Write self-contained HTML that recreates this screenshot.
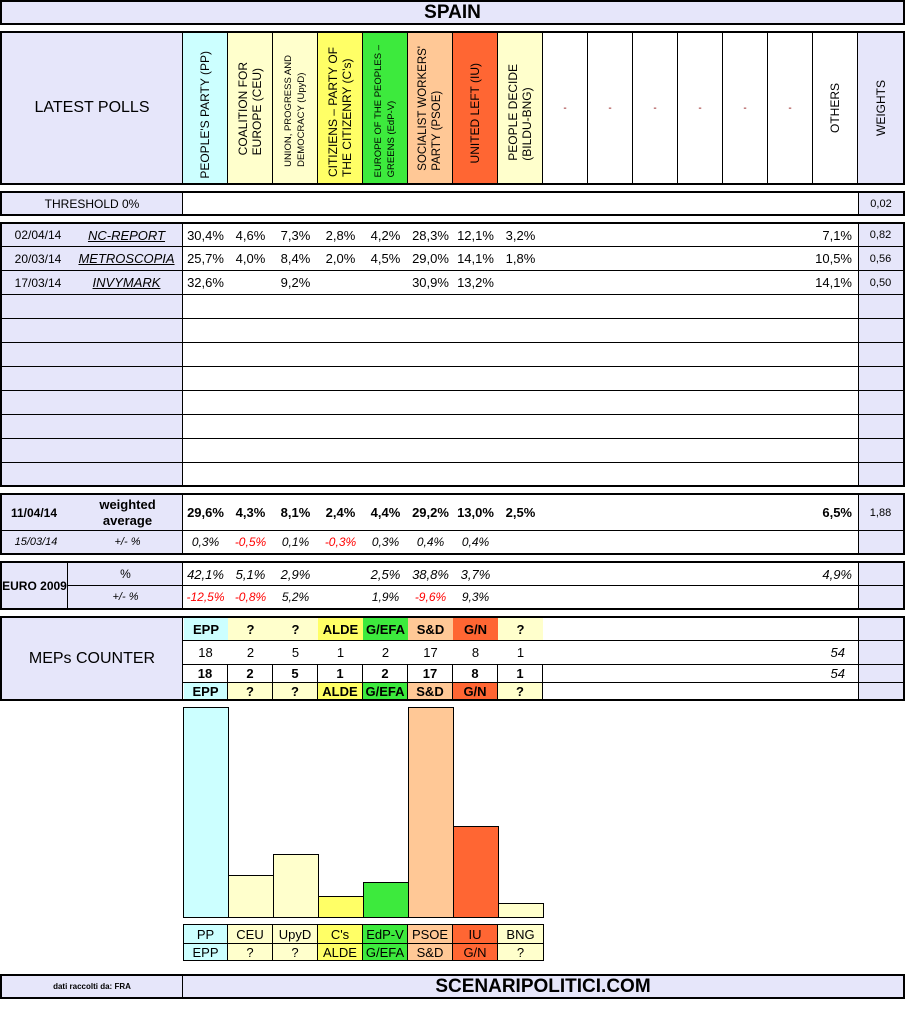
<!DOCTYPE html>
<html><head><meta charset="utf-8"><style>
body{margin:0;width:908px;height:1033px;background:#fff;position:relative;font-family:"Liberation Sans",Arial,sans-serif;color:#000;overflow:hidden}
.b{position:absolute;box-sizing:border-box}
.c{position:absolute;box-sizing:border-box;display:flex;align-items:center;justify-content:center;font-size:13px;white-space:nowrap}
.lv{background:#e6e6fa}
.v{writing-mode:vertical-rl;transform:rotate(180deg);text-align:left;line-height:14px;font-size:12px}
.i{font-style:italic}.r{color:#f00}.bd{font-weight:bold}
</style></head><body>
<!-- title -->
<div class="c lv" style="left:0;top:0;width:905px;height:25px;border:2px solid #000;font-size:19px;font-weight:bold">SPAIN</div>

<!-- header -->
<div class="b" style="left:0;top:31px;width:905px;height:154px;border:2px solid #000"></div>
<div class="c lv" style="left:2px;top:33px;width:181px;height:150px;font-size:16px;border-right:1px solid #000">LATEST POLLS</div>
<div class="c" style="left:183px;top:33px;width:45px;height:150px;background:#ccffff;border-right:1px solid #000;align-items:flex-end;padding-bottom:4px"><span class="v">PEOPLE'S PARTY (PP)</span></div>
<div class="c" style="left:228px;top:33px;width:45px;height:150px;background:#ffffcc;border-right:1px solid #000;align-items:flex-end;padding-bottom:28px"><span class="v">COALITION FOR<br>EUROPE (CEU)</span></div>
<div class="c" style="left:273px;top:33px;width:45px;height:150px;background:#ffffcc;border-right:1px solid #000;align-items:flex-end;padding-bottom:16px"><span class="v" style="font-size:9.5px;line-height:13px">UNION, PROGRESS AND<br>DEMOCRACY (UpyD)</span></div>
<div class="c" style="left:318px;top:33px;width:45px;height:150px;background:#ffff66;border-right:1px solid #000;align-items:flex-end;padding-bottom:6px"><span class="v">CITIZIENS – PARTY OF<br>THE CITIZENRY (C's)</span></div>
<div class="c" style="left:363px;top:33px;width:45px;height:150px;background:#3dea3d;border-right:1px solid #000;align-items:flex-end;padding-bottom:6px"><span class="v" style="font-size:9.5px;line-height:13px">EUROPE OF THE PEOPLES –<br>GREENS (EdP-V)</span></div>
<div class="c" style="left:408px;top:33px;width:45px;height:150px;background:#ffc896;border-right:1px solid #000;align-items:flex-end;padding-bottom:12px"><span class="v" style="font-size:11.5px">SOCIALIST WORKERS'<br>PARTY (PSOE)</span></div>
<div class="c" style="left:453px;top:33px;width:45px;height:150px;background:#ff6633;border-right:1px solid #000;align-items:flex-end;padding-bottom:20px"><span class="v">UNITED LEFT (IU)</span></div>
<div class="c" style="left:498px;top:33px;width:45px;height:150px;background:#ffffcc;border-right:1px solid #000;align-items:flex-end;padding-bottom:22px"><span class="v">PEOPLE DECIDE<br>(BILDU-BNG)</span></div>
<div class="c" style="left:543px;top:33px;width:45px;height:150px;border-right:1px solid #000;color:#800;font-size:10px">-</div>
<div class="c" style="left:588px;top:33px;width:45px;height:150px;border-right:1px solid #000;color:#800;font-size:10px">-</div>
<div class="c" style="left:633px;top:33px;width:45px;height:150px;border-right:1px solid #000;color:#800;font-size:10px">-</div>
<div class="c" style="left:678px;top:33px;width:45px;height:150px;border-right:1px solid #000;color:#800;font-size:10px">-</div>
<div class="c" style="left:723px;top:33px;width:45px;height:150px;border-right:1px solid #000;color:#800;font-size:10px">-</div>
<div class="c" style="left:768px;top:33px;width:45px;height:150px;border-right:1px solid #000;color:#800;font-size:10px">-</div>
<div class="c" style="left:813px;top:33px;width:45px;height:150px;border-right:1px solid #000"><span class="v">OTHERS</span></div>
<div class="c lv" style="left:858px;top:33px;width:45px;height:150px"><span class="v">WEIGHTS</span></div>

<!-- threshold -->
<div class="b" style="left:0;top:191px;width:905px;height:25px;border:2px solid #000"></div>
<div class="c lv" style="left:2px;top:193px;width:181px;height:21px;border-right:1px solid #000;font-size:12px">THRESHOLD 0%</div>
<div class="c lv" style="left:858px;top:193px;width:45px;height:21px;border-left:1px solid #000;font-size:11px">0,02</div>

<!-- polls -->
<div class="b" style="left:0;top:222px;width:905px;height:265px;border:2px solid #000"></div>
<div class="b lv" style="left:2px;top:224px;width:181px;height:261px;border-right:1px solid #000"></div>
<div class="b lv" style="left:858px;top:224px;width:45px;height:261px;border-left:1px solid #000"></div>
<div class="b" style="left:2px;top:246px;width:901px;height:24px;border-top:1px solid #000"></div>
<div class="b" style="left:2px;top:270px;width:901px;height:24px;border-top:1px solid #000"></div>
<div class="b" style="left:2px;top:294px;width:901px;height:24px;border-top:1px solid #000"></div>
<div class="b" style="left:2px;top:318px;width:901px;height:24px;border-top:1px solid #000"></div>
<div class="b" style="left:2px;top:342px;width:901px;height:24px;border-top:1px solid #000"></div>
<div class="b" style="left:2px;top:366px;width:901px;height:24px;border-top:1px solid #000"></div>
<div class="b" style="left:2px;top:390px;width:901px;height:24px;border-top:1px solid #000"></div>
<div class="b" style="left:2px;top:414px;width:901px;height:24px;border-top:1px solid #000"></div>
<div class="b" style="left:2px;top:438px;width:901px;height:24px;border-top:1px solid #000"></div>
<div class="b" style="left:2px;top:462px;width:901px;height:23px;border-top:1px solid #000"></div>

<div class="c" style="left:8px;top:224px;width:60px;height:22px;font-size:12px">02/04/14</div>
<div class="c i" style="left:70px;top:224px;width:113px;height:22px;text-decoration:underline">NC-REPORT</div>
<div class="c" style="left:8px;top:247px;width:60px;height:23px;font-size:12px">20/03/14</div>
<div class="c i" style="left:70px;top:247px;width:113px;height:23px;text-decoration:underline">METROSCOPIA</div>
<div class="c" style="left:8px;top:271px;width:60px;height:23px;font-size:12px">17/03/14</div>
<div class="c i" style="left:70px;top:271px;width:113px;height:23px;text-decoration:underline">INVYMARK</div>

<div class="c" style="left:183px;top:224px;width:45px;height:22px">30,4%</div>
<div class="c" style="left:228px;top:224px;width:45px;height:22px">4,6%</div>
<div class="c" style="left:273px;top:224px;width:45px;height:22px">7,3%</div>
<div class="c" style="left:318px;top:224px;width:45px;height:22px">2,8%</div>
<div class="c" style="left:363px;top:224px;width:45px;height:22px">4,2%</div>
<div class="c" style="left:408px;top:224px;width:45px;height:22px">28,3%</div>
<div class="c" style="left:453px;top:224px;width:45px;height:22px">12,1%</div>
<div class="c" style="left:498px;top:224px;width:45px;height:22px">3,2%</div>
<div class="c" style="left:800px;top:224px;width:52px;height:22px;justify-content:flex-end">7,1%</div>
<div class="c" style="left:858px;top:224px;width:45px;height:22px;font-size:11px">0,82</div>

<div class="c" style="left:183px;top:247px;width:45px;height:23px">25,7%</div>
<div class="c" style="left:228px;top:247px;width:45px;height:23px">4,0%</div>
<div class="c" style="left:273px;top:247px;width:45px;height:23px">8,4%</div>
<div class="c" style="left:318px;top:247px;width:45px;height:23px">2,0%</div>
<div class="c" style="left:363px;top:247px;width:45px;height:23px">4,5%</div>
<div class="c" style="left:408px;top:247px;width:45px;height:23px">29,0%</div>
<div class="c" style="left:453px;top:247px;width:45px;height:23px">14,1%</div>
<div class="c" style="left:498px;top:247px;width:45px;height:23px">1,8%</div>
<div class="c" style="left:800px;top:247px;width:52px;height:23px;justify-content:flex-end">10,5%</div>
<div class="c" style="left:858px;top:247px;width:45px;height:23px;font-size:11px">0,56</div>

<div class="c" style="left:183px;top:271px;width:45px;height:23px">32,6%</div>
<div class="c" style="left:273px;top:271px;width:45px;height:23px">9,2%</div>
<div class="c" style="left:408px;top:271px;width:45px;height:23px">30,9%</div>
<div class="c" style="left:453px;top:271px;width:45px;height:23px">13,2%</div>
<div class="c" style="left:800px;top:271px;width:52px;height:23px;justify-content:flex-end">14,1%</div>
<div class="c" style="left:858px;top:271px;width:45px;height:23px;font-size:11px">0,50</div>

<!-- weighted -->
<div class="b" style="left:0;top:493px;width:905px;height:62px;border:2px solid #000"></div>
<div class="b lv" style="left:2px;top:495px;width:181px;height:58px;border-right:1px solid #000"></div>
<div class="b lv" style="left:858px;top:495px;width:45px;height:58px;border-left:1px solid #000"></div>
<div class="b" style="left:2px;top:530px;width:901px;height:1px;background:#000"></div>
<div class="c bd" style="left:4px;top:495px;width:60px;height:35px;font-size:12px">11/04/14</div>
<div class="c bd" style="left:80px;top:495px;width:95px;height:35px;font-size:13px;line-height:16px;text-align:center">weighted<br>average</div>
<div class="c i" style="left:8px;top:531px;width:56px;height:22px;font-size:11px">15/03/14</div>
<div class="c i" style="left:80px;top:531px;width:95px;height:22px;font-size:11px">+/- %</div>
<div class="c bd" style="left:183px;top:495px;width:45px;height:35px">29,6%</div>
<div class="c bd" style="left:228px;top:495px;width:45px;height:35px">4,3%</div>
<div class="c bd" style="left:273px;top:495px;width:45px;height:35px">8,1%</div>
<div class="c bd" style="left:318px;top:495px;width:45px;height:35px">2,4%</div>
<div class="c bd" style="left:363px;top:495px;width:45px;height:35px">4,4%</div>
<div class="c bd" style="left:408px;top:495px;width:45px;height:35px">29,2%</div>
<div class="c bd" style="left:453px;top:495px;width:45px;height:35px">13,0%</div>
<div class="c bd" style="left:498px;top:495px;width:45px;height:35px">2,5%</div>
<div class="c bd" style="left:800px;top:495px;width:52px;height:35px;justify-content:flex-end">6,5%</div>
<div class="c" style="left:858px;top:495px;width:45px;height:35px;font-size:11px">1,88</div>
<div class="c i" style="left:183px;top:531px;width:45px;height:22px;font-size:12px">0,3%</div>
<div class="c i r" style="left:228px;top:531px;width:45px;height:22px;font-size:12px">-0,5%</div>
<div class="c i" style="left:273px;top:531px;width:45px;height:22px;font-size:12px">0,1%</div>
<div class="c i r" style="left:318px;top:531px;width:45px;height:22px;font-size:12px">-0,3%</div>
<div class="c i" style="left:363px;top:531px;width:45px;height:22px;font-size:12px">0,3%</div>
<div class="c i" style="left:408px;top:531px;width:45px;height:22px;font-size:12px">0,4%</div>
<div class="c i" style="left:453px;top:531px;width:45px;height:22px;font-size:12px">0,4%</div>

<!-- euro 2009 -->
<div class="b" style="left:0;top:561px;width:905px;height:49px;border:2px solid #000"></div>
<div class="b lv" style="left:2px;top:563px;width:181px;height:45px;border-right:1px solid #000"></div>
<div class="b" style="left:67px;top:563px;width:1px;height:45px;background:#000"></div>
<div class="b lv" style="left:858px;top:563px;width:45px;height:45px;border-left:1px solid #000"></div>
<div class="b" style="left:67px;top:585px;width:836px;height:1px;background:#000"></div>
<div class="c bd" style="left:2px;top:563px;width:65px;height:45px;font-size:12px">EURO 2009</div>
<div class="c" style="left:68px;top:563px;width:115px;height:22px;font-size:12px">%</div>
<div class="c i" style="left:68px;top:586px;width:115px;height:22px;font-size:11px">+/- %</div>
<div class="c i" style="left:183px;top:563px;width:45px;height:22px">42,1%</div>
<div class="c i" style="left:228px;top:563px;width:45px;height:22px">5,1%</div>
<div class="c i" style="left:273px;top:563px;width:45px;height:22px">2,9%</div>
<div class="c i" style="left:363px;top:563px;width:45px;height:22px">2,5%</div>
<div class="c i" style="left:408px;top:563px;width:45px;height:22px">38,8%</div>
<div class="c i" style="left:453px;top:563px;width:45px;height:22px">3,7%</div>
<div class="c i" style="left:800px;top:563px;width:52px;height:22px;justify-content:flex-end">4,9%</div>
<div class="c i r" style="left:183px;top:586px;width:45px;height:22px;font-size:12px">-12,5%</div>
<div class="c i r" style="left:228px;top:586px;width:45px;height:22px;font-size:12px">-0,8%</div>
<div class="c i" style="left:273px;top:586px;width:45px;height:22px;font-size:12px">5,2%</div>
<div class="c i" style="left:363px;top:586px;width:45px;height:22px;font-size:12px">1,9%</div>
<div class="c i r" style="left:408px;top:586px;width:45px;height:22px;font-size:12px">-9,6%</div>
<div class="c i" style="left:453px;top:586px;width:45px;height:22px;font-size:12px">9,3%</div>

<!-- MEPs -->
<div class="b" style="left:0;top:616px;width:905px;height:85px;border:2px solid #000"></div>
<div class="c lv" style="left:2px;top:618px;width:181px;height:81px;border-right:1px solid #000;font-size:16px">MEPs COUNTER</div>
<div class="b lv" style="left:858px;top:618px;width:45px;height:81px;border-left:1px solid #000"></div>
<div class="b" style="left:183px;top:640px;width:720px;height:1px;background:#000"></div>
<div class="b" style="left:183px;top:664px;width:720px;height:1px;background:#000"></div>
<div class="b" style="left:183px;top:682px;width:720px;height:1px;background:#000"></div>

<div class="c bd" style="left:184px;top:618px;width:44px;height:22px;background:#ccffff">EPP</div>
<div class="c bd" style="left:228px;top:618px;width:45px;height:22px;background:#ffffcc">?</div>
<div class="c bd" style="left:273px;top:618px;width:45px;height:22px;background:#ffffcc">?</div>
<div class="c bd" style="left:318px;top:618px;width:45px;height:22px;background:#ffff66">ALDE</div>
<div class="c bd" style="left:363px;top:618px;width:45px;height:22px;background:#3dea3d">G/EFA</div>
<div class="c bd" style="left:408px;top:618px;width:45px;height:22px;background:#ffc896">S&amp;D</div>
<div class="c bd" style="left:453px;top:618px;width:45px;height:22px;background:#ff6633">G/N</div>
<div class="c bd" style="left:498px;top:618px;width:45px;height:22px;background:#ffffcc">?</div>

<div class="c" style="left:183px;top:641px;width:45px;height:23px">18</div>
<div class="c" style="left:228px;top:641px;width:45px;height:23px">2</div>
<div class="c" style="left:273px;top:641px;width:45px;height:23px">5</div>
<div class="c" style="left:318px;top:641px;width:45px;height:23px">1</div>
<div class="c" style="left:363px;top:641px;width:45px;height:23px">2</div>
<div class="c" style="left:408px;top:641px;width:45px;height:23px">17</div>
<div class="c" style="left:453px;top:641px;width:45px;height:23px">8</div>
<div class="c" style="left:498px;top:641px;width:45px;height:23px">1</div>
<div class="c i" style="left:800px;top:641px;width:45px;height:23px;justify-content:flex-end">54</div>

<div class="c bd" style="left:183px;top:665px;width:45px;height:17px;border-right:1px solid #000">18</div>
<div class="c bd" style="left:228px;top:665px;width:45px;height:17px;border-right:1px solid #000">2</div>
<div class="c bd" style="left:273px;top:665px;width:45px;height:17px;border-right:1px solid #000">5</div>
<div class="c bd" style="left:318px;top:665px;width:45px;height:17px;border-right:1px solid #000">1</div>
<div class="c bd" style="left:363px;top:665px;width:45px;height:17px;border-right:1px solid #000">2</div>
<div class="c bd" style="left:408px;top:665px;width:45px;height:17px;border-right:1px solid #000">17</div>
<div class="c bd" style="left:453px;top:665px;width:45px;height:17px;border-right:1px solid #000">8</div>
<div class="c bd" style="left:498px;top:665px;width:45px;height:17px;border-right:1px solid #000">1</div>
<div class="c i" style="left:800px;top:665px;width:45px;height:17px;justify-content:flex-end">54</div>

<div class="c bd" style="left:184px;top:683px;width:44px;height:16px;background:#ccffff;border-right:1px solid #000">EPP</div>
<div class="c bd" style="left:228px;top:683px;width:45px;height:16px;background:#ffffcc;border-right:1px solid #000">?</div>
<div class="c bd" style="left:273px;top:683px;width:45px;height:16px;background:#ffffcc;border-right:1px solid #000">?</div>
<div class="c bd" style="left:318px;top:683px;width:45px;height:16px;background:#ffff66;border-right:1px solid #000">ALDE</div>
<div class="c bd" style="left:363px;top:683px;width:45px;height:16px;background:#3dea3d;border-right:1px solid #000">G/EFA</div>
<div class="c bd" style="left:408px;top:683px;width:45px;height:16px;background:#ffc896;border-right:1px solid #000">S&amp;D</div>
<div class="c bd" style="left:453px;top:683px;width:45px;height:16px;background:#ff6633;border-right:1px solid #000">G/N</div>
<div class="c bd" style="left:498px;top:683px;width:45px;height:16px;background:#ffffcc;border-right:1px solid #000">?</div>

<!-- bars -->
<div class="b" style="left:183px;top:707px;width:46px;height:211px;background:#ccffff;border:1px solid #000"></div>
<div class="b" style="left:228px;top:875px;width:46px;height:43px;background:#ffffcc;border:1px solid #000"></div>
<div class="b" style="left:273px;top:854px;width:46px;height:64px;background:#ffffcc;border:1px solid #000"></div>
<div class="b" style="left:318px;top:896px;width:46px;height:22px;background:#ffff66;border:1px solid #000"></div>
<div class="b" style="left:363px;top:882px;width:46px;height:36px;background:#3dea3d;border:1px solid #000"></div>
<div class="b" style="left:408px;top:707px;width:46px;height:211px;background:#ffc896;border:1px solid #000"></div>
<div class="b" style="left:453px;top:826px;width:46px;height:92px;background:#ff6633;border:1px solid #000"></div>
<div class="b" style="left:498px;top:903px;width:46px;height:15px;background:#ffffcc;border:1px solid #000"></div>

<!-- legend -->
<div class="b" style="left:183px;top:924px;width:361px;height:37px;border:1px solid #000"></div>
<div class="c" style="left:184px;top:925px;width:44px;height:18px;background:#ccffff;border-right:1px solid #000">PP</div>
<div class="c" style="left:228px;top:925px;width:45px;height:18px;background:#ffffcc;border-right:1px solid #000">CEU</div>
<div class="c" style="left:273px;top:925px;width:45px;height:18px;background:#ffffcc;border-right:1px solid #000">UpyD</div>
<div class="c" style="left:318px;top:925px;width:45px;height:18px;background:#ffff66;border-right:1px solid #000">C's</div>
<div class="c" style="left:363px;top:925px;width:45px;height:18px;background:#3dea3d;border-right:1px solid #000">EdP-V</div>
<div class="c" style="left:408px;top:925px;width:45px;height:18px;background:#ffc896;border-right:1px solid #000">PSOE</div>
<div class="c" style="left:453px;top:925px;width:45px;height:18px;background:#ff6633;border-right:1px solid #000">IU</div>
<div class="c" style="left:498px;top:925px;width:45px;height:18px;background:#ffffcc">BNG</div>
<div class="b" style="left:183px;top:943px;width:361px;height:1px;background:#000"></div>
<div class="c" style="left:184px;top:944px;width:44px;height:16px;background:#ccffff;border-right:1px solid #000">EPP</div>
<div class="c" style="left:228px;top:944px;width:45px;height:16px;background:#ffffcc;border-right:1px solid #000">?</div>
<div class="c" style="left:273px;top:944px;width:45px;height:16px;background:#ffffcc;border-right:1px solid #000">?</div>
<div class="c" style="left:318px;top:944px;width:45px;height:16px;background:#ffff66;border-right:1px solid #000">ALDE</div>
<div class="c" style="left:363px;top:944px;width:45px;height:16px;background:#3dea3d;border-right:1px solid #000">G/EFA</div>
<div class="c" style="left:408px;top:944px;width:45px;height:16px;background:#ffc896;border-right:1px solid #000">S&amp;D</div>
<div class="c" style="left:453px;top:944px;width:45px;height:16px;background:#ff6633;border-right:1px solid #000">G/N</div>
<div class="c" style="left:498px;top:944px;width:45px;height:16px;background:#ffffcc">?</div>

<!-- footer -->
<div class="b lv" style="left:0;top:974px;width:905px;height:25px;border:2px solid #000"></div>
<div class="c" style="left:2px;top:976px;width:181px;height:21px;border-right:1px solid #000;font-size:8px;font-weight:bold">dati raccolti da: FRA</div>
<div class="c bd" style="left:183px;top:976px;width:720px;height:21px;font-size:19px">SCENARIPOLITICI.COM</div>
</body></html>
